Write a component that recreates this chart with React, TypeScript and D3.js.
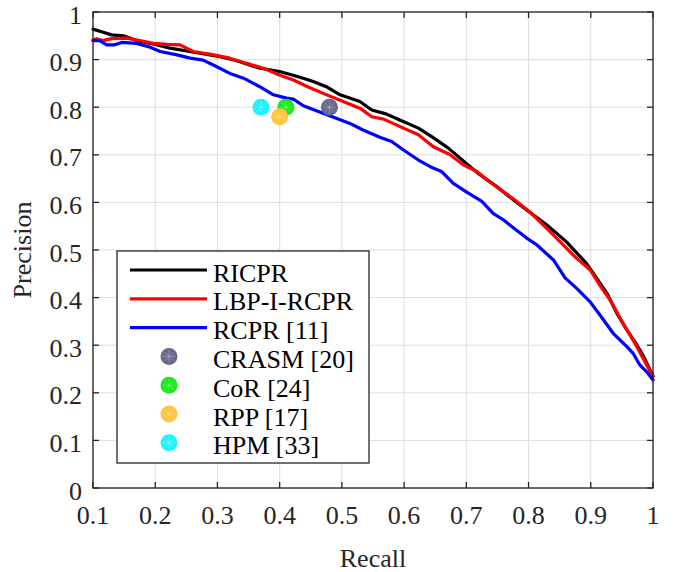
import * as d3 from 'd3';
import React from 'react';

// recall / precision pairs
const ricpr: [number, number][] = [
  [0.1, 0.964], [0.115, 0.958], [0.13, 0.952], [0.149, 0.95], [0.17, 0.94], [0.2, 0.932],
  [0.224, 0.924], [0.26, 0.916], [0.304, 0.906], [0.33, 0.898], [0.368, 0.882], [0.4, 0.875],
  [0.43, 0.864], [0.454, 0.854], [0.475, 0.843], [0.497, 0.826], [0.529, 0.812], [0.548, 0.794],
  [0.571, 0.786], [0.593, 0.773], [0.623, 0.756], [0.648, 0.735], [0.671, 0.714], [0.69, 0.693],
  [0.719, 0.661], [0.75, 0.632], [0.776, 0.605], [0.797, 0.584], [0.829, 0.553], [0.861, 0.517],
  [0.893, 0.472], [0.91, 0.44], [0.926, 0.409], [0.942, 0.367], [0.958, 0.332], [0.972, 0.305],
  [0.985, 0.276], [1.0, 0.235],
];

const lbpIRcpr: [number, number][] = [
  [0.1, 0.941], [0.106, 0.944], [0.115, 0.94], [0.13, 0.944], [0.154, 0.945], [0.175, 0.94],
  [0.197, 0.934], [0.22, 0.932], [0.24, 0.931], [0.261, 0.917], [0.29, 0.911], [0.32, 0.903],
  [0.347, 0.892], [0.374, 0.882], [0.395, 0.87], [0.422, 0.857], [0.445, 0.843], [0.47, 0.829],
  [0.502, 0.812], [0.529, 0.798], [0.548, 0.78], [0.567, 0.775], [0.599, 0.756], [0.623, 0.742],
  [0.647, 0.717], [0.674, 0.7], [0.695, 0.679], [0.717, 0.665], [0.733, 0.647], [0.755, 0.627],
  [0.778, 0.605], [0.802, 0.58], [0.821, 0.556], [0.851, 0.517], [0.872, 0.489], [0.899, 0.458],
  [0.915, 0.425], [0.931, 0.395], [0.952, 0.346], [0.974, 0.297], [1.0, 0.234],
];

const rcpr: [number, number][] = [
  [0.1, 0.94], [0.111, 0.94], [0.122, 0.931], [0.135, 0.931], [0.146, 0.936], [0.17, 0.934],
  [0.192, 0.926], [0.208, 0.917], [0.235, 0.91], [0.256, 0.903], [0.277, 0.899], [0.299, 0.885],
  [0.32, 0.871], [0.342, 0.861], [0.368, 0.843], [0.39, 0.826], [0.411, 0.819], [0.422, 0.817],
  [0.438, 0.803], [0.476, 0.784], [0.513, 0.766], [0.534, 0.752], [0.561, 0.737], [0.58, 0.728],
  [0.599, 0.71], [0.623, 0.689], [0.642, 0.675], [0.66, 0.665], [0.679, 0.64], [0.7, 0.622],
  [0.725, 0.602], [0.743, 0.577], [0.76, 0.563], [0.776, 0.546], [0.797, 0.525], [0.813, 0.511],
  [0.84, 0.479], [0.859, 0.441], [0.877, 0.42], [0.899, 0.391], [0.915, 0.363], [0.936, 0.325],
  [0.958, 0.297], [0.968, 0.283], [0.979, 0.258], [0.99, 0.244], [1.0, 0.227],
];

const curveNames = ['RICPR', 'LBP-I-RCPR', 'RCPR [11]'];
const curveColors = ['#000000', '#ff0000', '#0000ff'];
const curves = [ricpr, lbpIRcpr, rcpr];

const pointNames = ['CRASM [20]', 'CoR [24]', 'RPP [17]', 'HPM [33]'];
const pointRecall = [0.48, 0.41, 0.4, 0.37];
const pointPrecision = [0.8, 0.8, 0.78, 0.8];
const pointColors = ['#67698a', '#1de81d', '#ffc440', '#1ff2ff'];

const xTicks = [0.1, 0.2, 0.3, 0.4, 0.5, 0.6, 0.7, 0.8, 0.9, 1];
const yTicks = [0, 0.1, 0.2, 0.3, 0.4, 0.5, 0.6, 0.7, 0.8, 0.9, 1];

export default function App() {
  const width = 678;
  const height = 572;
  const left = 93, right = 653, top = 12, bottom = 488;
  const font = '"Liberation Serif", "Times New Roman", serif';
  const fs = 26;
  const axisColor = '#262626';

  const x = d3.scaleLinear().domain([0.1, 1]).range([left, right]);
  const y = d3.scaleLinear().domain([0, 1]).range([bottom, top]);
  const line = d3.line<[number, number]>().x(d => x(d[0])).y(d => y(d[1]));
  const fmt = (v: number) => (v === 0 || v === 1 ? String(v) : d3.format('.1f')(v));

  const r = 8.5;
  const marker = (cx: number, cy: number, color: string, key: string) => (
    <g key={key}>
      <circle cx={cx} cy={cy} r={r} fill={color} />
      {[0, 45, 90, 135].map(a => {
        const rad = (a * Math.PI) / 180;
        const dx = Math.cos(rad) * r * 0.75, dy = Math.sin(rad) * r * 0.75;
        return (
          <line key={a} x1={cx - dx} y1={cy - dy} x2={cx + dx} y2={cy + dy}
            stroke="#ffffff" strokeOpacity={0.3} strokeWidth={0.8} />
        );
      })}
    </g>
  );

  // legend layout
  const lgX = 117, lgY = 251, lgW = 252, lgH = 212;
  const rowY0 = 270, rowStep = 28.8;
  const legendRows = [
    ...curveNames.map((n, i) => ({ name: n, kind: 'line', color: curveColors[i] })),
    ...pointNames.map((n, i) => ({ name: n, kind: 'dot', color: pointColors[i] })),
  ];

  return (
    <svg width={width} height={height} style={{ position: 'absolute', left: 0, top: 0, background: '#fff' }}
      fontFamily={font}>
      <rect x={0} y={0} width={width} height={height} fill="#fff" />

      {/* grid */}
      <g stroke="#dedede" strokeWidth={1}>
        {xTicks.map(t => <line key={'gx' + t} x1={x(t)} x2={x(t)} y1={top} y2={bottom} />)}
        {yTicks.map(t => <line key={'gy' + t} x1={left} x2={right} y1={y(t)} y2={y(t)} />)}
      </g>

      {/* curves */}
      {curves.map((c, i) => (
        <path key={curveNames[i]} d={line(c) || ''} fill="none" stroke={curveColors[i]}
          strokeWidth={3.2} strokeLinejoin="round" strokeLinecap="round" />
      ))}

      {/* single-point methods */}
      {[3, 1, 2, 0].map(i => marker(x(pointRecall[i]), y(pointPrecision[i]), pointColors[i], 'p' + i))}

      {/* axes box and ticks */}
      <g stroke={axisColor} strokeWidth={1.3} fill="none">
        <rect x={left} y={top} width={right - left} height={bottom - top} />
        {xTicks.map(t => (
          <g key={'tx' + t}>
            <line x1={x(t)} x2={x(t)} y1={bottom} y2={bottom - 6} />
            <line x1={x(t)} x2={x(t)} y1={top} y2={top + 6} />
          </g>
        ))}
        {yTicks.map(t => (
          <g key={'ty' + t}>
            <line x1={left} x2={left + 6} y1={y(t)} y2={y(t)} />
            <line x1={right} x2={right - 6} y1={y(t)} y2={y(t)} />
          </g>
        ))}
      </g>

      <g fill={axisColor} fontSize={fs}>
        {xTicks.map(t => (
          <text key={'lx' + t} x={x(t)} y={524} textAnchor="middle">{fmt(t)}</text>
        ))}
        {yTicks.map(t => (
          <text key={'ly' + t} x={82} y={y(t) + 11.5} textAnchor="end">{fmt(t)}</text>
        ))}
        <text x={(left + right) / 2} y={567} textAnchor="middle">Recall</text>
        <text transform={`translate(31,${(top + bottom) / 2}) rotate(-90)`} textAnchor="middle">Precision</text>
      </g>

      {/* legend */}
      <rect x={lgX} y={lgY} width={lgW} height={lgH} fill="#fff" stroke={axisColor} strokeWidth={1.3} />
      {legendRows.map((row, i) => {
        const cy = rowY0 + i * rowStep;
        return (
          <g key={row.name}>
            {row.kind === 'line'
              ? <line x1={130} x2={207} y1={cy} y2={cy} stroke={row.color} strokeWidth={3.2} />
              : marker(169, cy, row.color, 'lg' + i)}
            <text x={213} y={cy + 11.5} fontSize={fs} fill="#000">{row.name}</text>
          </g>
        );
      })}
    </svg>
  );
}
